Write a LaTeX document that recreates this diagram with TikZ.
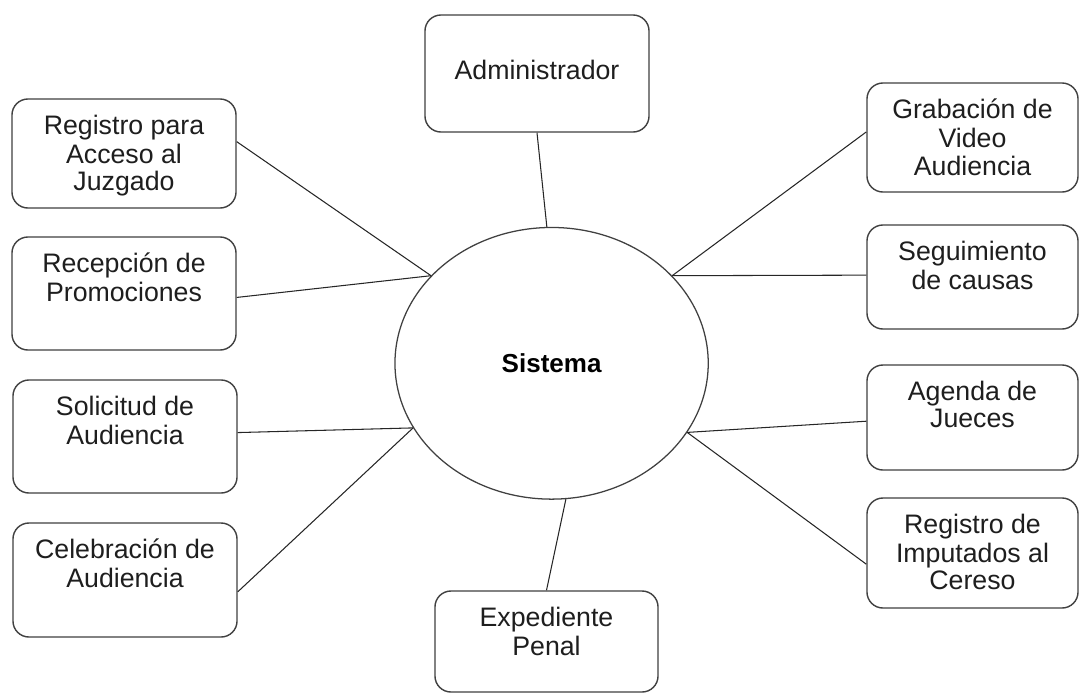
\documentclass[tikz,border=0pt]{standalone}
\usepackage{fontspec}
\setmainfont{Liberation Sans}
\usepackage{xcolor}
\usetikzlibrary{shapes.geometric}
\definecolor{borde}{HTML}{404040}
\definecolor{texto}{HTML}{1E1E1E}
\tikzset{
    caja/.style = {draw=borde, fill=white, line width=1pt, rectangle, rounded corners=0.4cm, inner sep=0pt, text=texto, font=\fontsize{19}{19.5}\selectfont},
    sistema/.style = {draw=borde, ellipse, line width=0.9pt, minimum width=7.83cm, minimum height=6.79cm, inner sep=0pt, text=black, font=\fontsize{18.5}{22}\selectfont\bfseries},
    enlace/.style = {draw=black!85, line width=0.75pt},
}
\newcommand{\cajatexto}[4][0.4cm]{\begin{minipage}[c][#3][t]{#2}\centering\vspace*{#1}\strut #4\end{minipage}}

\begin{document}
\begin{tikzpicture}[x=0.025cm, y=-0.025cm]
\useasboundingbox (0,0) rectangle (1080,693);

\node [sistema] (sis) at (551.6,363.3) {Sistema};

\node [caja] (adm) at (537,73.5) {\cajatexto[1.12cm]{5.6cm}{2.925cm}{Administrador}};
\node [caja] (acc) at (124,153.5) {\cajatexto{5.6cm}{2.725cm}{Registro para\\Acceso al\\Juzgado}};
\node [caja] (rec) at (124,293.5) {\cajatexto{5.6cm}{2.825cm}{Recepción de\\Promociones}};
\node [caja] (sol) at (125,436.5) {\cajatexto{5.6cm}{2.825cm}{Solicitud de\\Audiencia}};
\node [caja] (cel) at (125,580) {\cajatexto{5.6cm}{2.85cm}{Celebración de\\Audiencia}};
\node [caja] (exp) at (546.5,641.5) {\cajatexto{5.575cm}{2.525cm}{Expediente\\Penal}};
\node [caja] (gra) at (972.5,137.5) {\cajatexto{5.275cm}{2.725cm}{Grabación de\\Video\\Audiencia}};
\node [caja] (seg) at (972.5,277) {\cajatexto{5.275cm}{2.6cm}{Seguimiento\\de causas}};
\node [caja] (age) at (972.5,417.5) {\cajatexto{5.275cm}{2.625cm}{Agenda de\\Jueces}};
\node [caja] (imp) at (972.5,553) {\cajatexto{5.275cm}{2.75cm}{Registro de\\Imputados al\\Cereso}};

% lineas hacia el sistema
\draw [enlace] (adm.south) -- (sis.92);
\draw [enlace] (acc.6) -- (sis.144);
\draw [enlace] (rec.-2) -- (sis.144);
\draw [enlace] (sol.2) -- (sis.205);
\draw [enlace] (cel.-6) -- (sis.205);
\draw [enlace] (exp.north) -- (sis.276);
\draw [enlace] (gra.177) -- (sis.36);
\draw [enlace] (seg.179) -- (sis.36);
\draw [enlace] (age.182) -- (sis.333);
\draw [enlace] (imp.186) -- (sis.333);
\end{tikzpicture}
\end{document}
